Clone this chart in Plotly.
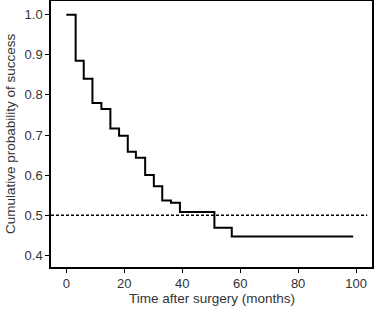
import plotly.graph_objects as go

times = [0, 3.2, 6.0, 9.0, 12.1, 15.2, 18.2, 21.2, 24.0, 27.2, 30.2, 33.1, 36.1, 39.2, 51.1, 57.1, 99.0]
surv = [1.0, 0.885, 0.84, 0.78, 0.765, 0.716, 0.698, 0.658, 0.643, 0.60, 0.572, 0.537, 0.531, 0.508, 0.469, 0.447, 0.447]
median_level = 0.5
x_ticks = [0, 20, 40, 60, 80, 100]
y_ticks = [0.4, 0.5, 0.6, 0.7, 0.8, 0.9, 1.0]

fig = go.Figure()
fig.add_trace(go.Scatter(x=times, y=surv, mode="lines", line_shape="hv",
                         line=dict(color="black", width=2), showlegend=False,
                         hoverinfo="skip"))
fig.add_shape(type="line", xref="paper", yref="y", x0=0, x1=0.985,
              y0=median_level, y1=median_level,
              line=dict(color="black", width=1.5, dash="3px,2px"))

fig.add_annotation(text="Time after surgery (months)", xref="paper", yref="paper",
                   x=0.5, y=0, yshift=-31, xanchor="center", yanchor="middle",
                   showarrow=False, font=dict(size=13.5, color="#333333"))
fig.add_annotation(text="Cumulative probability of success", xref="paper", yref="paper",
                   x=0, y=0.5, xshift=-41, xanchor="center", yanchor="middle",
                   textangle=-90, showarrow=False, font=dict(size=13.5, color="#333333"))

font = dict(family="Liberation Sans, Arial, sans-serif", size=13, color="#333333")
fig.update_layout(
    width=374, height=310,
    margin=dict(l=51, r=2, t=1, b=43),
    plot_bgcolor="white", paper_bgcolor="white",
    font=font,
    xaxis=dict(range=[-5.3, 105.5], tickvals=x_ticks, ticks="outside", ticklen=4,
               tickcolor="black", showline=True, mirror=True, linecolor="black",
               linewidth=1.5, showgrid=False, zeroline=False, automargin=False),
    yaxis=dict(range=[0.371, 1.034], tickvals=y_ticks, tickformat=".1f",
               ticks="outside", ticklen=4, tickcolor="black", showline=True,
               mirror=True, linecolor="black", linewidth=1.5, showgrid=False,
               zeroline=False, automargin=False),
)
fig.write_html("out.html", config={"displayModeBar": False},
               post_script="document.body.style.margin='0';document.body.style.overflow='hidden';")
